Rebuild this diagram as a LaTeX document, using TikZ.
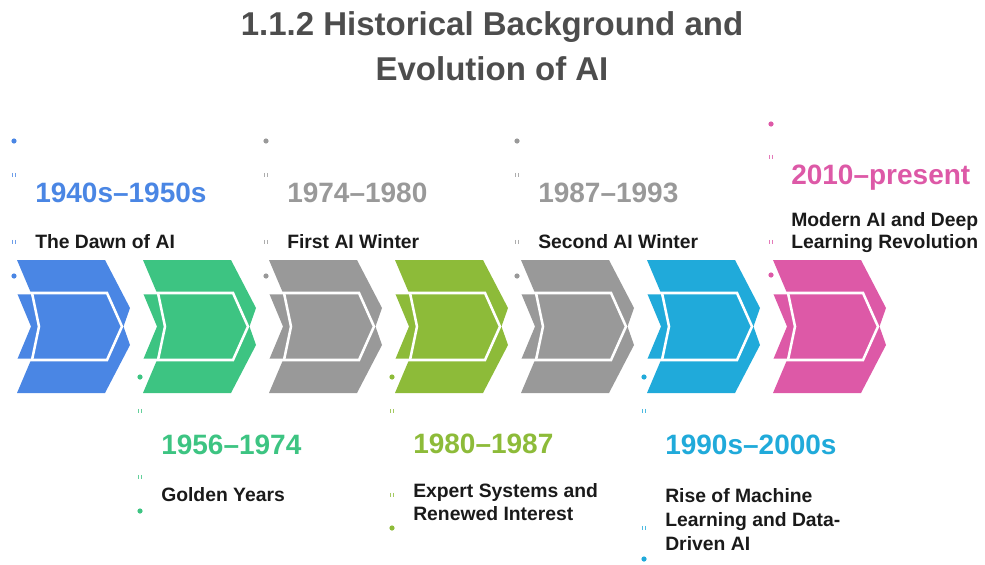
\documentclass[tikz,border=0pt]{standalone}
\usepackage{fontspec}
\setmainfont{Liberation Sans}
\definecolor{cblue}{HTML}{4A86E4}
\definecolor{cgreen}{HTML}{3DC482}
\definecolor{cgray}{HTML}{999999}
\definecolor{colive}{HTML}{8DBB39}
\definecolor{ccyan}{HTML}{20AADA}
\definecolor{cpink}{HTML}{DD59A7}
\definecolor{ctitle}{HTML}{4D4D4D}
\definecolor{cdesc}{HTML}{1A1A1A}
\begin{document}
\begin{tikzpicture}[x=0.75pt,y=-0.75pt,
  titlelbl/.style={font=\fontsize{24.75}{34}\selectfont\bfseries, text=ctitle, anchor=base, inner sep=0},
  yearlbl/.style={font=\fontsize{21}{25}\selectfont\bfseries, anchor=base west, inner sep=0},
  desclbl/.style={font=\fontsize{14.5}{17}\selectfont\bfseries, text=cdesc, anchor=base west, inner sep=0},
  chevron/.pic={
    \fill[pic actions] (0,0)--(88,0)--(113,48)--(106.5,66.5)--(113,85)--(88,133)--(0,133)--(14,100)--(0,100)--(14,66.5)--(0,33)--(14,33)--cycle;
    \draw[white,line width=1.9pt,line join=miter] (0,33)--(90,33)--(105,66.5)--(90,100)--(0,100);
    \draw[white,line width=1.9pt] (15,33)--(22,66.5)--(15,100);
  },
  tickmark/.pic={\draw[pic actions, line width=0.6pt] (-1.5,-2.2)--(-1.5,2.2) (1.5,-2.2)--(1.5,2.2);},
]
\useasboundingbox (0,0) rectangle (985,564);

% title
\node[titlelbl] (title1) at (492,36) {1.1.2 Historical Background and};
\node[titlelbl] (title2) at (492,80) {Evolution of AI};

% chevrons
\pic[fill=cblue]  at (17,260)  {chevron};
\pic[fill=cgreen] at (143,260) {chevron};
\pic[fill=cgray]  at (269,260) {chevron};
\pic[fill=colive] at (395,260) {chevron};
\pic[fill=cgray]  at (521,260) {chevron};
\pic[fill=ccyan]  at (647,260) {chevron};
\pic[fill=cpink]  at (773,260) {chevron};

% ---- top columns ----
% blue
\fill[cblue] (14,141) circle (2.6);
\pic[draw=cblue!80] at (14,175) {tickmark};
\pic[draw=cblue!80] at (14,242) {tickmark};
\fill[cblue] (14,276) circle (2.6);
\node[yearlbl, text=cblue] (y1) at (35,202) {1940s–1950s};
\node[desclbl] (d1) at (35,248) {The Dawn of AI};
% gray 1
\fill[cgray] (266,141) circle (2.6);
\pic[draw=cgray!80] at (266,175) {tickmark};
\pic[draw=cgray!80] at (266,242) {tickmark};
\fill[cgray] (266,276) circle (2.6);
\node[yearlbl, text=cgray] (y3) at (287,202) {1974–1980};
\node[desclbl] (d3) at (287,248) {First AI Winter};
% gray 2
\fill[cgray] (517,141) circle (2.6);
\pic[draw=cgray!80] at (517,175) {tickmark};
\pic[draw=cgray!80] at (517,242) {tickmark};
\fill[cgray] (517,276) circle (2.6);
\node[yearlbl, text=cgray] (y5) at (538,202) {1987–1993};
\node[desclbl] (d5) at (538,248) {Second AI Winter};
% pink
\fill[cpink] (771,124) circle (2.6);
\pic[draw=cpink!80] at (771,157) {tickmark};
\pic[draw=cpink!80] at (771,242) {tickmark};
\fill[cpink] (771,275) circle (2.6);
\node[yearlbl, text=cpink] (y7) at (791,184) {2010–present};
\node[desclbl] (d7a) at (791,226) {Modern AI and Deep};
\node[desclbl] (d7b) at (791,248) {Learning Revolution};

% ---- bottom columns ----
% green
\fill[cgreen] (140,377) circle (2.6);
\pic[draw=cgreen!80] at (140,411) {tickmark};
\pic[draw=cgreen!80] at (140,477) {tickmark};
\fill[cgreen] (140,511) circle (2.6);
\node[yearlbl, text=cgreen] (y2) at (161,454) {1956–1974};
\node[desclbl] (d2) at (161,501) {Golden Years};
% olive
\fill[colive] (392,377) circle (2.6);
\pic[draw=colive!80] at (392,411) {tickmark};
\pic[draw=colive!80] at (392,495) {tickmark};
\fill[colive] (392,528) circle (2.6);
\node[yearlbl, text=colive] (y4) at (413,453) {1980–1987};
\node[desclbl] (d4a) at (413,497) {Expert Systems and};
\node[desclbl] (d4b) at (413,520) {Renewed Interest};
% cyan
\fill[ccyan] (644,377) circle (2.6);
\pic[draw=ccyan!80] at (644,411) {tickmark};
\pic[draw=ccyan!80] at (644,528) {tickmark};
\fill[ccyan] (644,559) circle (2.6);
\node[yearlbl, text=ccyan] (y6) at (665,454) {1990s–2000s};
\node[desclbl] (d6a) at (665,502) {Rise of Machine};
\node[desclbl] (d6b) at (665,526) {Learning and Data-};
\node[desclbl] (d6c) at (665,550) {Driven AI};
\end{tikzpicture}
\end{document}
